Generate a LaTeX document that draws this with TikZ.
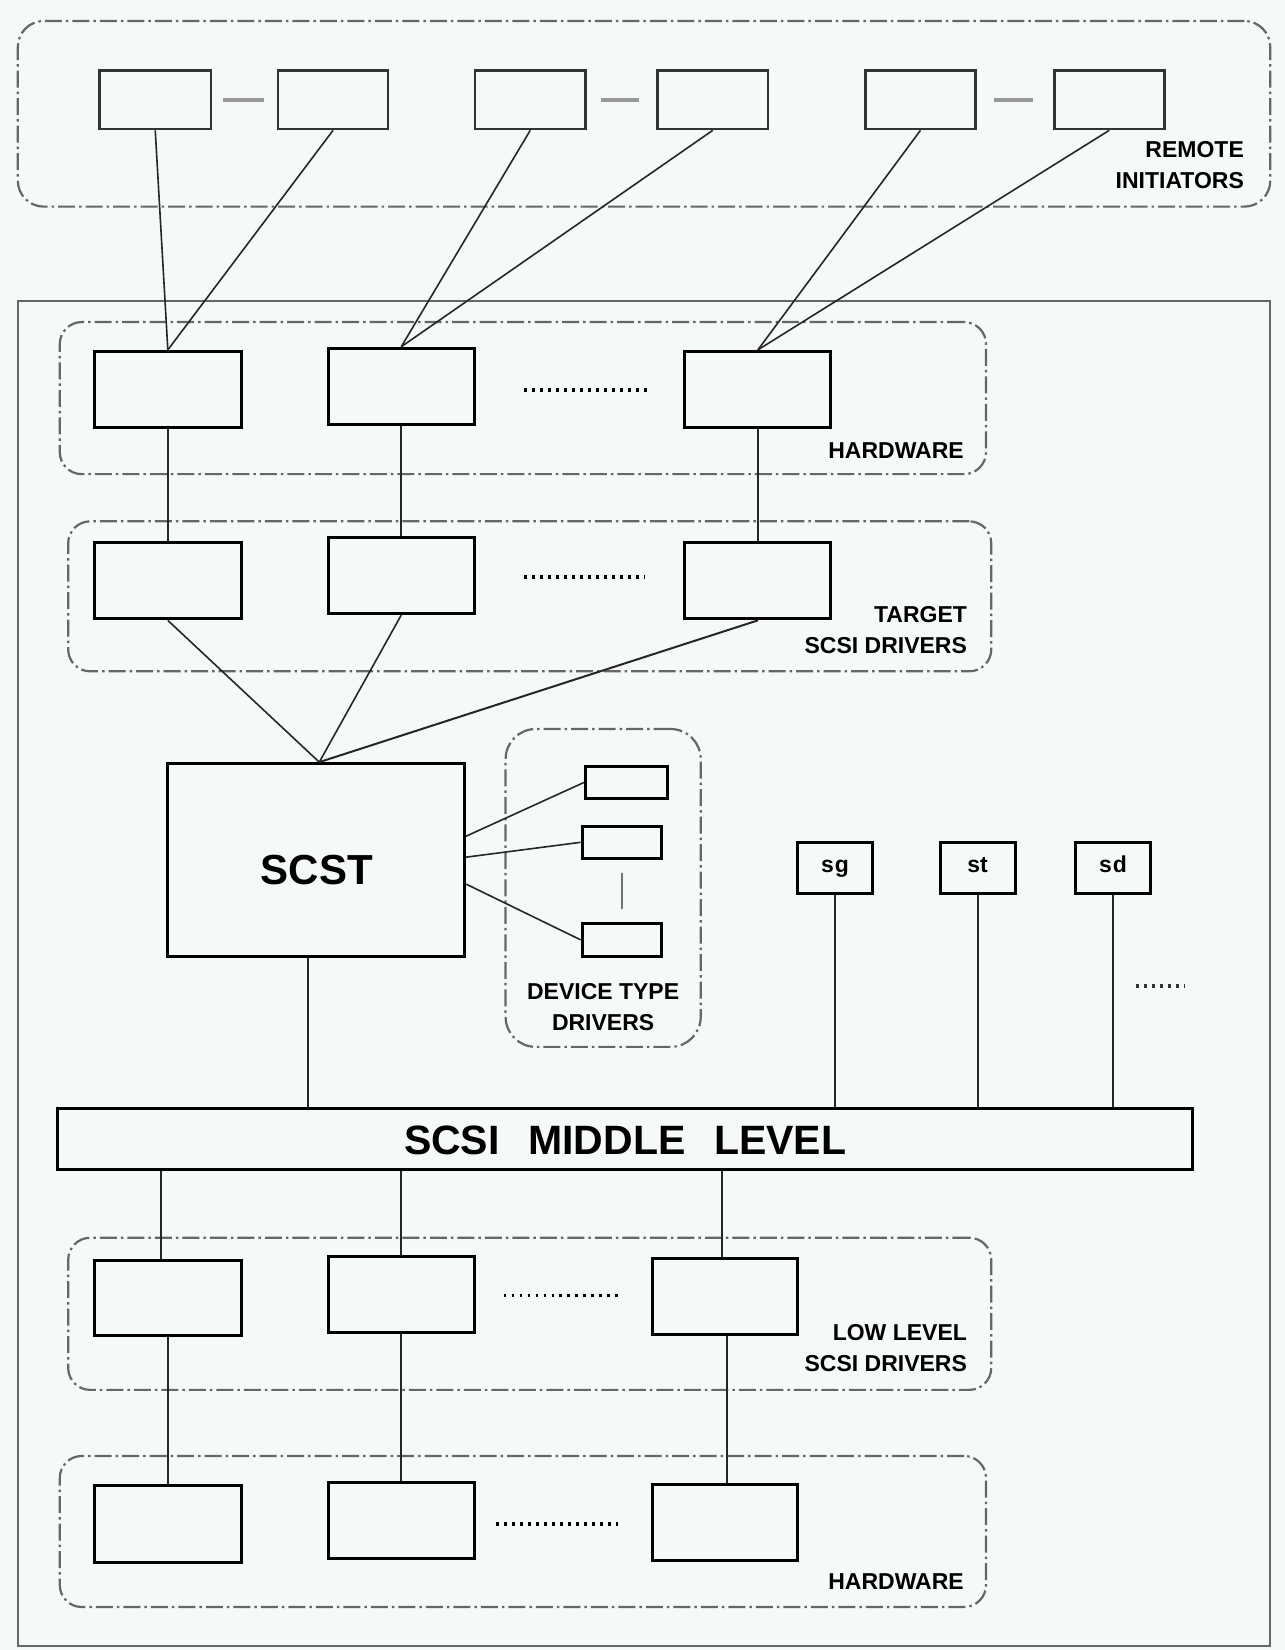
\documentclass[tikz,border=0pt]{standalone}
\usepackage{fontspec}
\setmainfont{Liberation Sans}
\usetikzlibrary{fit,calc}
\definecolor{bgc}{RGB}{246,250,246}
\begin{document}
\begin{tikzpicture}[x=1.049pt,y=-1.049pt,
  box/.style={draw=black,line width=3pt,inner sep=0pt},
  rbox/.style={draw=black!80,line width=2.6pt,inner sep=0pt},
  grp/.style={draw=black!60,line width=2.2pt,rounded corners=22pt,inner sep=0pt,
    dash pattern=on 17pt off 4pt on 2.5pt off 4pt},
  conn/.style={draw=black!85,line width=1.6pt},
  glink/.style={draw=black!40,line width=4pt},
  dotrow/.style={draw=black,line width=3.5pt,dash pattern=on 2.5pt off 5.5pt},
  lbl/.style={font=\fontsize{23}{31}\selectfont\bfseries,inner sep=0pt,align=right,anchor=east},
  small/.style={font=\fontsize{23}{26}\selectfont\bfseries,inner sep=0pt,anchor=base},
]
% background / bounding box
\fill[bgc] (0,0) rectangle (1225,1573);
\useasboundingbox (0,0) rectangle (1225,1573);

% outer frame
\node[draw=black!60,line width=2.2pt,inner sep=0pt,fit={(17,287) (1211,1569)}] (outer) {};

% groups
\node[grp,rounded corners=26pt,fit={(17,20) (1211,197)}] (grem) {};
\node[grp,fit={(57,307) (940,452)}] (ghw1) {};
\node[grp,fit={(65,497) (945,640)}] (gtgt) {};
\node[grp,rounded corners=30pt,fit={(482,695) (668,998)}] (gdev) {};
\node[grp,fit={(65,1180) (945,1325)}] (gll) {};
\node[grp,fit={(57,1388) (940,1532)}] (ghw2) {};

% group labels
\node[lbl] (lrem) at (1186,157) {REMOTE\\INITIATORS};
\node[lbl] (lhw1) at (919,430) {HARDWARE};
\node[lbl] (ltgt) at (922,601) {TARGET\\SCSI DRIVERS};
\node[lbl] (lll) at (922,1285) {LOW LEVEL\\SCSI DRIVERS};
\node[lbl] (lhw2) at (919,1508) {HARDWARE};
\node[lbl,align=center,anchor=center] (ldev) at (575,960) {DEVICE TYPE\\DRIVERS};

% remote initiators
\node[rbox,fit={(95,67) (201,123)}] (r1) {};
\node[rbox,fit={(265,67) (370,123)}] (r2) {};
\node[rbox,fit={(453,67) (558,123)}] (r3) {};
\node[rbox,fit={(627,67) (732,123)}] (r4) {};
\node[rbox,fit={(825,67) (930,123)}] (r5) {};
\node[rbox,fit={(1005,67) (1110,123)}] (r6) {};

% hardware (top)
\node[box,fit={(90,335) (230,408)}] (hwA) {};
\node[box,fit={(313,332) (452,405)}] (hwB) {};
\node[box,fit={(653,335) (792,408)}] (hwC) {};

% target drivers
\node[box,fit={(90,517) (230,590)}] (tA) {};
\node[box,fit={(313,512) (452,585)}] (tB) {};
\node[box,fit={(653,517) (792,590)}] (tC) {};

% SCST
\node[box,fit={(160,728) (443,912)}] (scst) {};
\node[font=\fontsize{42}{42}\selectfont\bfseries,inner sep=0pt] (scsttxt) at (302,829) {SCST};

% device type drivers
\node[box,fit={(558,731) (636,761)}] (d1) {};
\node[box,fit={(555,788) (631,818)}] (d2) {};
\node[box,fit={(555,880) (631,912)}] (d3) {};

% sg st sd
\node[box,fit={(760,803) (832,852)}] (sg) {};
\node[box,fit={(897,803) (968,852)}] (st) {};
\node[box,fit={(1025,803) (1097,852)}] (sd) {};
\node[small] (tsg) at (796,832) {s\kern1pt g};
\node[small] (tst) at (932,832) {st};
\node[small] (tsd) at (1061,832) {s\kern1pt d};

% middle level
\node[box,fit={(55,1057) (1137,1115)}] (mid) {};
\node[font=\fontsize{41}{41}\selectfont\bfseries,inner sep=0pt] (midtxt) at (596,1087)
  {SCSI\hspace{0.7em}MIDDLE\hspace{0.7em}LEVEL};

% low level drivers
\node[box,fit={(90,1202) (230,1273)}] (lA) {};
\node[box,fit={(313,1198) (452,1270)}] (lB) {};
\node[box,fit={(622,1200) (760,1272)}] (lC) {};

% hardware (bottom)
\node[box,fit={(90,1416) (230,1490)}] (hA) {};
\node[box,fit={(313,1413) (452,1486)}] (hB) {};
\node[box,fit={(622,1415) (760,1488)}] (hC) {};

% connectors: remote -> hardware
\draw[conn] (r1.south) -- (hwA.north);
\draw[conn] (r2.south) -- (hwA.north);
\draw[conn] (r3.south) -- (hwB.north);
\draw[conn] (r4.south) -- (hwB.north);
\draw[conn] (r5.south) -- (hwC.north);
\draw[conn] (r6.south) -- (hwC.north);

% remote pair links
\draw[glink,shorten <=11pt,shorten >=13pt] (r1.east) -- (r2.west);
\draw[glink,shorten <=14pt,shorten >=17pt] (r3.east) -- (r4.west);
\draw[glink,shorten <=17pt,shorten >=20pt] (r5.east) -- (r6.west);

% hardware -> target
\draw[conn] (hwA.south) -- (tA.north);
\draw[conn] (hwB.south) -- (tB.north);
\draw[conn] (hwC.south) -- (tC.north);

% target -> SCST
\coordinate (stop) at ([xshift=3pt]scst.north);
\draw[conn] (tA.south) -- (stop);
\draw[conn] (tB.south) -- (stop);
\draw[conn,line width=2pt] (tC.south) -- (stop);

% SCST -> device drivers
\draw[conn] ([yshift=24pt]scst.east) -- (d1.west);
\draw[conn] ([yshift=3pt]scst.east) -- (d2.west);
\draw[conn] ([yshift=-24pt]scst.east) -- (d3.west);
\draw[draw=black!55,line width=2pt,shorten <=13pt,shorten >=13pt] (d2.south) -- (d3.north);

% SCST -> middle
\coordinate (sbot) at ([xshift=-8pt]scst.south);
\draw[conn] (sbot) -- (sbot |- mid.north);

% sg st sd -> middle
\draw[conn] (sg.south) -- (sg.south |- mid.north);
\draw[conn] (st.south) -- (st.south |- mid.north);
\draw[conn] (sd.south) -- (sd.south |- mid.north);

% middle -> low level
\coordinate (lAt) at ([xshift=-7pt]lA.north);
\coordinate (lCt) at ([xshift=-3pt]lC.north);
\draw[conn] (lAt |- mid.south) -- (lAt);
\draw[conn] (lB.north |- mid.south) -- (lB.north);
\draw[conn] (lCt |- mid.south) -- (lCt);

% low level -> hardware
\draw[conn] (lA.south) -- (hA.north);
\draw[conn] (lB.south) -- (hB.north);
\draw[conn] ([xshift=2pt]lC.south) -- ([xshift=2pt]hC.north);

% ellipses
\draw[dotrow] (500,372) -- (617,372);
\draw[dotrow] (500,550) -- (615,550);
\draw[dotrow] (480,1235) -- (594,1235);
\draw[dotrow] (473,1453) -- (589,1453);
\draw[draw=black!80,line width=3.2pt,dash pattern=on 3pt off 5pt] (1083,940) -- (1129,940);
\end{tikzpicture}
\end{document}
